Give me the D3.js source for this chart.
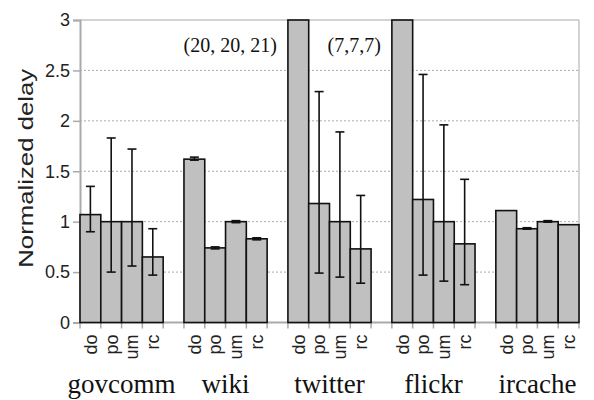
<!DOCTYPE html>
<html>
<head>
<meta charset="utf-8">
<script src="https://cdn.jsdelivr.net/npm/d3@7"></script>
<style>
    body { margin: 0; background: #fff; }
    svg { display: block; }
</style>
</head>
<body>
<div id="chart"></div>
<script>
const groups = ['govcomm', 'wiki', 'twitter', 'flickr', 'ircache'];
const schemes = ['do', 'po', 'um', 'rc'];
// bar heights per group, in scheme order (twitter/flickr 'do' run off the top)
const means = [
    [1.07, 1.0, 1.0, 0.65],
    [1.62, 0.74, 1.0, 0.83],
    [20, 1.18, 1.0, 0.73],
    [7, 1.22, 1.0, 0.78],
    [1.11, 0.93, 1.0, 0.97]
];
const errLow = [
    [0.90, 0.50, 0.56, 0.47],
    [1.61, 0.73, 0.99, 0.82],
    [20, 0.49, 0.45, 0.39],
    [7, 0.47, 0.41, 0.375],
    [1.11, 0.925, 0.995, 0.967]
];
const errHigh = [
    [1.35, 1.83, 1.72, 0.93],
    [1.64, 0.75, 1.01, 0.84],
    [21, 2.29, 1.89, 1.26],
    [7, 2.46, 1.96, 1.42],
    [1.11, 0.94, 1.01, 0.967]
];
const yTicks = [0, 0.5, 1, 1.5, 2, 2.5, 3];
const noteGroups = ['twitter', 'flickr'];
const noteTexts = ['(20, 20, 21)', '(7,7,7)'];

const width = 594, height = 400;
const margin = { top: 20, right: 15, bottom: 77.5, left: 80 };

const svg = d3.select('#chart').append('svg')
    .attr('width', width)
    .attr('height', height);

const x0 = d3.scaleBand()
    .domain(groups)
    .range([margin.left, width - margin.right])
    .paddingInner(0.2)
    .paddingOuter(0);

const x1 = d3.scaleBand()
    .domain(schemes)
    .range([0, x0.bandwidth()]);

const y = d3.scaleLinear()
    .domain([0, 3])
    .range([height - margin.bottom, margin.top])
    .clamp(true);

const plotRight = width - margin.right;

// grid lines
svg.append('g')
    .selectAll('line')
    .data(yTicks.filter(d => d > 0 && d < 3))
    .enter()
    .append('line')
    .attr('x1', margin.left)
    .attr('x2', plotRight)
    .attr('y1', d => y(d))
    .attr('y2', d => y(d))
    .attr('stroke', '#aaa')
    .attr('stroke-width', 1)
    .attr('stroke-dasharray', '2,2');

// top and right frame
svg.append('line')
    .attr('x1', margin.left).attr('x2', plotRight)
    .attr('y1', y(3)).attr('y2', y(3))
    .attr('stroke', '#c4c4c4').attr('stroke-width', 1.5);
svg.append('line')
    .attr('x1', plotRight).attr('x2', plotRight)
    .attr('y1', y(3)).attr('y2', y(0))
    .attr('stroke', '#c4c4c4').attr('stroke-width', 1.5);

// y axis
const yAxis = svg.append('g')
    .attr('transform', `translate(${margin.left},0)`)
    .call(d3.axisLeft(y).tickValues(yTicks).tickSize(7).tickPadding(3).tickFormat(d3.format('~g')));
yAxis.select('.domain').attr('stroke', '#aaa').attr('stroke-width', 2);
yAxis.selectAll('.tick line').attr('stroke', '#aaa').attr('stroke-width', 1.5);
yAxis.selectAll('.tick text')
    .attr('fill', '#222')
    .style('font-family', 'Liberation Sans, Arial, sans-serif')
    .style('font-size', '18px');

// x axis base line and ticks at every slot edge
const edges = [];
groups.forEach(g => {
    for (let k = 0; k <= schemes.length; k++) edges.push(x0(g) + k * x1.step());
});
svg.append('g')
    .selectAll('line')
    .data(edges)
    .enter()
    .append('line')
    .attr('x1', d => d).attr('x2', d => d)
    .attr('y1', y(0)).attr('y2', y(0) + 6)
    .attr('stroke', '#aaa').attr('stroke-width', 1.5);
svg.append('line')
    .attr('x1', margin.left).attr('x2', plotRight)
    .attr('y1', y(0)).attr('y2', y(0))
    .attr('stroke', '#aaa').attr('stroke-width', 2);

// bars
const rows = [];
groups.forEach((g, i) => {
    schemes.forEach((s, j) => {
        rows.push({ group: g, scheme: s, mean: means[i][j], low: errLow[i][j], high: errHigh[i][j] });
    });
});

const bars = svg.append('g');
bars.selectAll('rect')
    .data(rows)
    .enter()
    .append('rect')
    .attr('x', d => x0(d.group) + x1(d.scheme))
    .attr('y', d => y(d.mean))
    .attr('width', x1.bandwidth())
    .attr('height', d => y(0) - y(d.mean))
    .attr('fill', '#c0c0c0')
    .attr('stroke', '#111')
    .attr('stroke-width', 1.6);

// error bars (skip the ones that are off the chart or empty)
const errs = rows.filter(d => d.high > d.low && d.low < 3);
const eb = svg.append('g').attr('stroke', '#111').attr('stroke-width', 1.6);
const cx = d => x0(d.group) + x1(d.scheme) + x1.bandwidth() / 2;
eb.selectAll('.stem')
    .data(errs)
    .enter()
    .append('line')
    .attr('x1', cx).attr('x2', cx)
    .attr('y1', d => y(d.low)).attr('y2', d => y(d.high));
['low', 'high'].forEach(k => {
    eb.selectAll('.cap-' + k)
        .data(errs)
        .enter()
        .append('line')
        .attr('x1', d => cx(d) - 4.5).attr('x2', d => cx(d) + 4.5)
        .attr('y1', d => y(d[k])).attr('y2', d => y(d[k]));
});

// scheme labels, rotated
svg.append('g')
    .selectAll('text')
    .data(rows)
    .enter()
    .append('text')
    .attr('transform', d => `translate(${cx(d)},${y(0) + 12}) rotate(-90)`)
    .attr('dy', '0.35em')
    .attr('text-anchor', 'end')
    .attr('fill', '#222')
    .style('font-family', 'Liberation Sans, Arial, sans-serif')
    .style('font-size', '18px')
    .text(d => d.scheme);

// group names
svg.append('g')
    .selectAll('text')
    .data(groups)
    .enter()
    .append('text')
    .attr('x', d => x0(d) + x0.bandwidth() / 2)
    .attr('y', 393)
    .attr('text-anchor', 'middle')
    .attr('fill', '#111')
    .style('font-family', 'Liberation Serif, Times New Roman, serif')
    .style('font-size', '27px')
    .text(d => d);

// notes for the bars that run off the top
svg.append('g')
    .selectAll('text')
    .data(noteGroups)
    .enter()
    .append('text')
    .attr('x', d => x0(d) - 11)
    .attr('y', y(2.68))
    .attr('text-anchor', 'end')
    .attr('fill', '#111')
    .style('font-family', 'Liberation Serif, Times New Roman, serif')
    .style('font-size', '20px')
    .text((d, i) => noteTexts[i]);

// y axis title
svg.append('text')
    .attr('transform', `translate(33,${(y(0) + y(3)) / 2 - 3}) rotate(-90)`)
    .attr('text-anchor', 'middle')
    .attr('fill', '#222')
    .attr('textLength', 199)
    .attr('lengthAdjust', 'spacingAndGlyphs')
    .style('font-family', 'Liberation Sans, Arial, sans-serif')
    .style('font-size', '21px')
    .text('Normalized delay');
</script>
</body>
</html>
